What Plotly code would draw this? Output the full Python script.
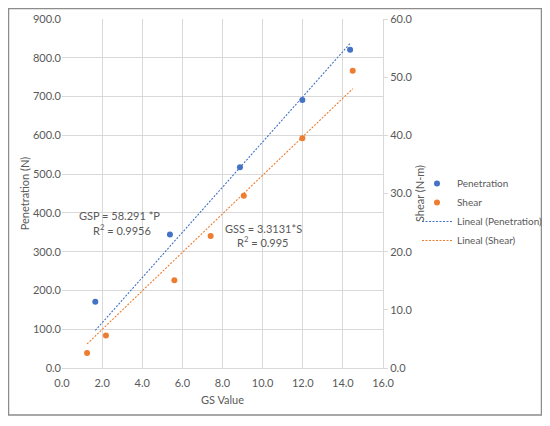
import plotly.graph_objects as go

# GS value vs penetration (left axis) and shear (right axis)
pen_gs = [1.66, 5.38, 8.87, 11.98, 14.36]
pen_force = [171.0, 344.0, 518.0, 691.0, 821.0]

shear_gs = [1.25, 2.19, 5.60, 7.41, 9.06, 11.98, 14.49]
shear_torque = [2.6, 5.6, 15.1, 22.7, 29.6, 39.5, 51.1]

# trendline slopes (through origin), as written on the chart
PEN_SLOPE = 58.291
SHEAR_SLOPE = 3.3131

x_ticks = [0, 2, 4, 6, 8, 10, 12, 14, 16]
left_ticks = [0, 100, 200, 300, 400, 500, 600, 700, 800, 900]
right_ticks = [0, 10, 20, 30, 40, 50, 60]

BLUE = '#4472C4'
ORANGE = '#ED7D31'
GREY = '#595959'
GRID = '#d9d9d9'
FONT = 'Lato, Roboto, sans-serif'

# page body adds 8px on each side, so the figure is laid out smaller
W, H = 534, 410
L, R, T, B = 54, 375, 11, 360


def px_x(p):
    return (p - L) / (R - L)


def px_y(p):
    return (B - p) / (B - T)


pen_x = [min(pen_gs), max(pen_gs)]
shear_x = [min(shear_gs), max(shear_gs)]

fig = go.Figure()
fig.add_trace(go.Scatter(x=pen_gs, y=pen_force, mode='markers', name='Penetration',
                         marker={'color': BLUE, 'size': 6}))
fig.add_trace(go.Scatter(x=shear_gs, y=shear_torque, mode='markers', name='Shear',
                         marker={'color': ORANGE, 'size': 6}, yaxis='y2'))
fig.add_trace(go.Scatter(x=pen_x, y=[PEN_SLOPE * v for v in pen_x], mode='lines',
                         name='Lineal (Penetration)',
                         line={'color': BLUE, 'width': 1.1, 'dash': '2px,1.5px'}))
fig.add_trace(go.Scatter(x=shear_x, y=[SHEAR_SLOPE * v for v in shear_x], mode='lines',
                         name='Lineal (Shear)', yaxis='y2',
                         line={'color': ORANGE, 'width': 1.1, 'dash': '2px,1.5px'}))

axis_font = {'family': FONT, 'size': 11, 'color': GREY}
legend_font = {'family': FONT, 'size': 10, 'color': GREY}

fig.update_layout(
    width=W, height=H,
    margin={'l': L, 'r': W - R, 't': T, 'b': H - B, 'autoexpand': False},
    paper_bgcolor='white', plot_bgcolor='white',
    font=axis_font,
    showlegend=True,
    legend={'x': px_x(409), 'y': px_y(161), 'xanchor': 'left', 'yanchor': 'top',
            'font': legend_font, 'itemwidth': 30, 'tracegroupgap': 0,
            'bgcolor': 'rgba(0,0,0,0)'},
    xaxis={'range': [0, 16], 'tickvals': x_ticks,
           'ticktext': [f'{v:.1f}' for v in x_ticks],
           'showgrid': True, 'gridcolor': GRID, 'zeroline': False,
           'showline': True, 'linecolor': GRID, 'mirror': False,
           'ticks': '', 'tickfont': axis_font, 'ticklabelstandoff': 5,
           'title': {'text': 'GS Value', 'font': axis_font, 'standoff': 8}},
    yaxis={'range': [0, 900], 'tickvals': left_ticks,
           'ticktext': [f'{v:.1f}' for v in left_ticks],
           'showgrid': True, 'gridcolor': GRID, 'zeroline': False,
           'showline': False, 'ticks': '', 'tickfont': axis_font,
           'title': {'text': 'Penetration (N)', 'font': axis_font, 'standoff': 1}},
    yaxis2={'range': [0, 60], 'tickvals': right_ticks,
            'ticktext': [f'{v:.1f}' for v in right_ticks],
            'overlaying': 'y', 'side': 'right', 'showgrid': False, 'zeroline': False,
            'showline': True, 'linecolor': GRID, 'ticks': 'outside', 'ticklen': 4,
            'tickcolor': GRID, 'tickfont': axis_font,
            'title': {'text': 'Shear (N-m)', 'font': axis_font, 'standoff': 0}},
    annotations=[
        {'x': 2.89, 'y': 394, 'xref': 'x', 'yref': 'y', 'showarrow': False,
         'text': 'GSP = 58.291 *P', 'font': axis_font},
        {'x': 2.99, 'y': 358, 'xref': 'x', 'yref': 'y', 'showarrow': False,
         'text': 'R<sup>2</sup> = 0.9956', 'font': axis_font},
        {'x': 10.02, 'y': 361, 'xref': 'x', 'yref': 'y', 'showarrow': False,
         'text': 'GSS = 3.3131*S', 'font': axis_font},
        {'x': 10.02, 'y': 327, 'xref': 'x', 'yref': 'y', 'showarrow': False,
         'text': 'R<sup>2</sup> = 0.995', 'font': axis_font},
    ],
    shapes=[
        {'type': 'rect', 'xref': 'paper', 'yref': 'paper',
         'x0': px_x(0.5), 'x1': px_x(533.5), 'y0': px_y(407), 'y1': px_y(0.5),
         'line': {'color': '#8c8c8c', 'width': 1.5}, 'layer': 'below'},
    ],
)

fig.write_html('out.html')
